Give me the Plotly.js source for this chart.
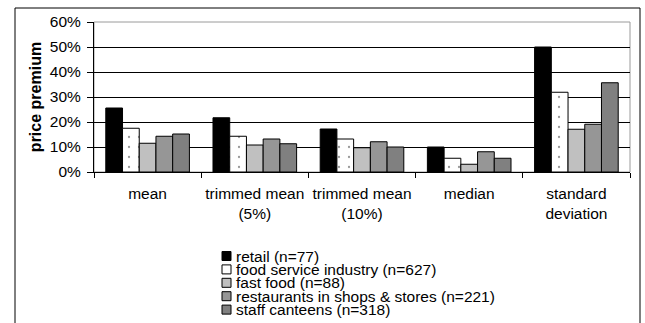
<!DOCTYPE html>
<html>
<head>
<meta charset="utf-8">
<script src="https://cdn.plot.ly/plotly-3.0.1.min.js"></script>
<style>
  html, body { margin: 0; padding: 0; background: #ffffff; }
  #chart { width: 645px; height: 323px; }
</style>
</head>
<body>
<div id="chart"></div>
<script>
// Price premium statistics by market segment
const categories = ["mean", "trimmed mean<br>(5%)", "trimmed mean<br>(10%)", "median", "standard<br>deviation"];
const seriesNames = [
  "retail (n=77)",
  "food service industry (n=627)",
  "fast food (n=88)",
  "restaurants in shops & stores (n=221)",
  "staff canteens (n=318)"
];
const retail      = [0.256, 0.217, 0.172, 0.100, 0.500];
const foodService = [0.175, 0.143, 0.132, 0.055, 0.319];
const fastFood    = [0.115, 0.108, 0.097, 0.031, 0.171];
const restaurants = [0.143, 0.132, 0.121, 0.081, 0.191];
const canteens    = [0.152, 0.113, 0.100, 0.055, 0.357];
const yTicks = [0, 0.1, 0.2, 0.3, 0.4, 0.5, 0.6];

const seriesValues = [retail, foodService, fastFood, restaurants, canteens];
const fills = ["#000000", "#ffffff", "#c0c0c0", "#969696", "#808080"];

// plot area in pixels
const W = 645, H = 323;
const M = { l: 94, r: 15, t: 22, b: 151 };
const pw = W - M.l - M.r, ph = H - M.t - M.b;
const px = x => (x - M.l) / pw;
const py = y => (H - M.b - y) / ph;

const FONT = "Liberation Sans, Arial, sans-serif";

const traces = seriesValues.map((vals, i) => {
  const marker = { color: fills[i], line: { color: "#000000", width: 1 } };
  if (i === 1) {
    marker.pattern = { shape: ".", fgcolor: "#9a9a9a", bgcolor: "#ffffff", size: 10, solidity: 0.04 };
  }
  return {
    type: "bar",
    name: seriesNames[i],
    x: categories,
    y: vals,
    marker: marker,
    showlegend: false,
    hoverinfo: "x+y+name"
  };
});

const shapes = [
  // outer frame
  { type: "rect", xref: "paper", yref: "paper", x0: px(15), x1: px(640), y0: py(8), y1: py(330),
    line: { color: "#000000", width: 1 }, fillcolor: "rgba(0,0,0,0)", layer: "below" },
  // plot area frame
  { type: "rect", xref: "paper", yref: "paper", x0: 0, x1: 1, y0: 0, y1: 1,
    line: { color: "#9a9a9a", width: 1 }, fillcolor: "rgba(0,0,0,0)", layer: "below" }
];

// legend block below the axis: swatch + label per series
const annotations = [];
const legX = 222, legY0 = 256, legStep = 13.4, sw = 9;
seriesNames.forEach((name, i) => {
  const cy = legY0 + i * legStep;
  shapes.push({
    type: "rect", xref: "paper", yref: "paper",
    x0: px(legX), x1: px(legX + sw), y0: py(cy + sw / 2), y1: py(cy - sw / 2),
    fillcolor: fills[i], line: { color: "#000000", width: 1 }
  });
  annotations.push({
    xref: "paper", yref: "paper", x: px(legX + sw + 3), y: py(cy),
    xanchor: "left", yanchor: "middle", showarrow: false,
    text: name, font: { family: FONT, size: 15.5, color: "#000000" }
  });
});

const layout = {
  width: W, height: H,
  margin: M,
  paper_bgcolor: "#ffffff",
  plot_bgcolor: "#ffffff",
  font: { family: FONT, size: 15.5, color: "#000000" },
  barmode: "group",
  bargap: 0.22,
  bargroupgap: 0,
  xaxis: {
    type: "category",
    showgrid: false,
    showline: true, linecolor: "#000000", linewidth: 1,
    ticks: "outside", tickson: "boundaries", ticklen: 5, tickcolor: "#000000",
    tickfont: { family: FONT, size: 15.5 },
    tickangle: 0,
    ticklabelstandoff: 7,
    zeroline: false,
    fixedrange: true
  },
  yaxis: {
    range: [0, 0.6],
    tickvals: yTicks,
    tickformat: ".0%",
    showgrid: true, gridcolor: "#000000", gridwidth: 1,
    showline: true, linecolor: "#000000", linewidth: 1,
    ticks: "outside", ticklen: 6, tickcolor: "#000000",
    tickfont: { family: FONT, size: 15.5 },
    ticklabelstandoff: 3,
    zeroline: false,
    title: { text: "<b>price premium</b>", font: { family: FONT, size: 16 }, standoff: 4 },
    fixedrange: true
  },
  shapes: shapes,
  annotations: annotations
};

Plotly.newPlot("chart", traces, layout, { displayModeBar: false, staticPlot: true });
</script>
</body>
</html>
